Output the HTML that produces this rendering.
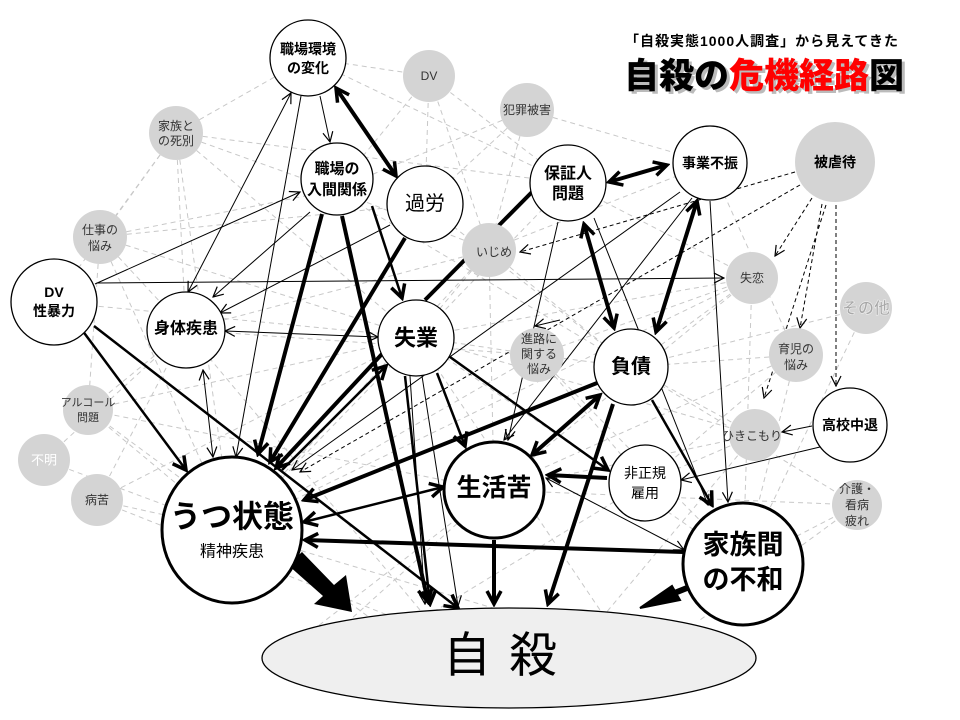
<!DOCTYPE html>
<html><head><meta charset="utf-8"><style>
html,body{margin:0;padding:0;background:#fff;}
svg{display:block;font-family:"Liberation Sans","Noto Sans CJK JP",sans-serif;}
.g{fill:#d4d4d4;stroke:none}
.w{fill:#fff;stroke:#000;stroke-width:1.3}
.d line{stroke:#c8c8c8;stroke-width:1;stroke-dasharray:5,4}
.t1 line{stroke:#000;stroke-width:1;marker-end:url(#a)}
.t3 line{stroke:#000;stroke-width:4;marker-end:url(#b)}
.t2 line{stroke:#000;stroke-width:2.5;marker-end:url(#b)}
.dk line{stroke:#000;stroke-width:1;stroke-dasharray:4,3;marker-end:url(#a)}
text{text-anchor:middle;dominant-baseline:central}
.gt{font-size:12px;fill:#333}
.b{font-weight:bold}
</style></head><body>
<svg width="960" height="720" viewBox="0 0 960 720">
<defs>
<marker id="a" viewBox="0 0 12 12" refX="11" refY="6" markerWidth="12" markerHeight="12" markerUnits="userSpaceOnUse" orient="auto-start-reverse"><path d="M1,1 L11,6 L1,11" fill="none" stroke="#000" stroke-width="1.2"/></marker>
<marker id="b" viewBox="0 0 18 18" refX="15" refY="9" markerWidth="18" markerHeight="18" markerUnits="userSpaceOnUse" orient="auto-start-reverse"><path d="M2,2 L15,9 L2,16" fill="none" stroke="#000" stroke-width="3.5"/></marker>
</defs>

<g class="d">
<line x1="429" y1="76" x2="335" y2="190"/><line x1="429" y1="76" x2="425" y2="204"/><line x1="429" y1="76" x2="568" y2="183"/><line x1="429" y1="76" x2="489" y2="250"/><line x1="429" y1="76" x2="308" y2="58"/>
<line x1="527" y1="110" x2="425" y2="204"/><line x1="527" y1="110" x2="489" y2="250"/><line x1="527" y1="110" x2="710" y2="163"/><line x1="527" y1="110" x2="335" y2="190"/>
<line x1="176" y1="133" x2="308" y2="58"/><line x1="176" y1="133" x2="100" y2="237"/><line x1="176" y1="133" x2="416" y2="337"/><line x1="176" y1="133" x2="232" y2="530"/><line x1="176" y1="133" x2="568" y2="183"/><line x1="176" y1="133" x2="54" y2="302"/><line x1="176" y1="133" x2="186" y2="330"/><line x1="176" y1="133" x2="335" y2="190"/>
<line x1="100" y1="237" x2="335" y2="190"/><line x1="100" y1="237" x2="416" y2="337"/><line x1="100" y1="237" x2="232" y2="530"/><line x1="100" y1="237" x2="186" y2="330"/><line x1="100" y1="237" x2="425" y2="204"/><line x1="100" y1="237" x2="88" y2="410"/>
<line x1="489" y1="250" x2="232" y2="530"/><line x1="489" y1="250" x2="416" y2="337"/><line x1="489" y1="250" x2="631" y2="367"/><line x1="489" y1="250" x2="186" y2="330"/><line x1="489" y1="250" x2="335" y2="190"/><line x1="489" y1="250" x2="710" y2="163"/><line x1="489" y1="250" x2="494" y2="490"/>
<line x1="752" y1="278" x2="631" y2="367"/><line x1="752" y1="278" x2="494" y2="490"/><line x1="752" y1="278" x2="743" y2="564"/><line x1="752" y1="278" x2="416" y2="337"/><line x1="752" y1="278" x2="568" y2="183"/><line x1="752" y1="278" x2="537" y2="355"/><line x1="752" y1="278" x2="232" y2="530"/>
<line x1="537" y1="355" x2="232" y2="530"/><line x1="537" y1="355" x2="631" y2="367"/><line x1="537" y1="355" x2="416" y2="337"/><line x1="537" y1="355" x2="645" y2="483"/><line x1="537" y1="355" x2="743" y2="564"/><line x1="537" y1="355" x2="186" y2="330"/>
<line x1="796" y1="355" x2="631" y2="367"/><line x1="796" y1="355" x2="743" y2="564"/><line x1="796" y1="355" x2="494" y2="490"/><line x1="796" y1="355" x2="645" y2="483"/><line x1="796" y1="355" x2="710" y2="163"/>
<line x1="88" y1="410" x2="232" y2="530"/><line x1="88" y1="410" x2="416" y2="337"/><line x1="88" y1="410" x2="186" y2="330"/><line x1="88" y1="410" x2="494" y2="490"/><line x1="88" y1="410" x2="400" y2="640"/>
<line x1="97" y1="500" x2="232" y2="530"/><line x1="97" y1="500" x2="400" y2="620"/><line x1="97" y1="500" x2="186" y2="330"/><line x1="97" y1="500" x2="416" y2="337"/>
<line x1="44" y1="460" x2="232" y2="530"/><line x1="44" y1="460" x2="186" y2="330"/>
<line x1="755" y1="435" x2="494" y2="490"/><line x1="755" y1="435" x2="631" y2="367"/><line x1="755" y1="435" x2="600" y2="620"/><line x1="755" y1="435" x2="645" y2="483"/><line x1="755" y1="435" x2="416" y2="337"/>
<line x1="857" y1="505" x2="743" y2="564"/><line x1="857" y1="505" x2="631" y2="367"/><line x1="857" y1="505" x2="494" y2="490"/><line x1="857" y1="505" x2="700" y2="620"/>
<line x1="866" y1="308" x2="743" y2="564"/><line x1="866" y1="308" x2="631" y2="367"/>
<line x1="186" y1="330" x2="420" y2="610"/><line x1="416" y1="337" x2="600" y2="610"/><line x1="335" y1="190" x2="631" y2="367"/><line x1="425" y1="204" x2="631" y2="367"/><line x1="308" y1="58" x2="568" y2="183"/><line x1="568" y1="183" x2="232" y2="530"/><line x1="416" y1="337" x2="743" y2="564"/><line x1="232" y1="530" x2="600" y2="640"/><line x1="631" y1="367" x2="350" y2="620"/><line x1="494" y1="490" x2="300" y2="640"/><line x1="645" y1="483" x2="420" y2="620"/><line x1="54" y1="302" x2="416" y2="337"/>
</g>

<g class="t1">
<line x1="320" y1="96" x2="330" y2="142"/>
<line x1="188" y1="292" x2="291" y2="93" marker-start="url(#a)"/>
<line x1="301" y1="96" x2="236" y2="457"/>
<line x1="95" y1="284" x2="300" y2="192"/>
<line x1="97" y1="283" x2="724" y2="278"/>
<line x1="310" y1="212" x2="213" y2="297"/>
<line x1="390" y1="225" x2="220" y2="313"/>
<line x1="225" y1="331" x2="378" y2="337" marker-start="url(#a)"/>
<line x1="203" y1="370" x2="213" y2="457" marker-start="url(#a)"/>
<line x1="680" y1="192" x2="292" y2="470"/>
<line x1="692" y1="198" x2="504" y2="440"/>
<line x1="558" y1="222" x2="508" y2="440"/>
<line x1="594" y1="218" x2="708" y2="505"/>
<line x1="710" y1="201" x2="728" y2="502"/>
<line x1="812" y1="426" x2="782" y2="432"/>
<line x1="820" y1="447" x2="681" y2="480"/>
<line x1="546" y1="478" x2="684" y2="550" marker-start="url(#a)"/>
<line x1="410" y1="376" x2="425" y2="604"/>
<line x1="422" y1="376" x2="458" y2="606"/>
<line x1="560" y1="320" x2="535" y2="326"/>
</g>

<g class="dk">
<line x1="795" y1="172" x2="520" y2="252"/>
<line x1="812" y1="198" x2="775" y2="256"/>
<line x1="822" y1="204" x2="800" y2="328"/>
<line x1="836" y1="205" x2="836" y2="386"/>
<line x1="826" y1="205" x2="764" y2="398"/>
<line x1="800" y1="185" x2="300" y2="472"/>
</g>

<g class="t2">
<line x1="82" y1="330" x2="186" y2="470"/>
<line x1="94" y1="326" x2="458" y2="608"/>
<line x1="437" y1="373" x2="465" y2="446"/>
<line x1="450" y1="357" x2="608" y2="470"/>
<line x1="405" y1="376" x2="430" y2="604"/>
<line x1="652" y1="400" x2="712" y2="505"/>
<line x1="372" y1="206" x2="402" y2="298"/>
<line x1="443" y1="487" x2="304" y2="522" marker-start="url(#b)"/>
<line x1="282" y1="470" x2="386" y2="366"/>
</g>

<g class="t3">
<line x1="336" y1="88" x2="396" y2="176" marker-start="url(#b)"/>
<line x1="609" y1="182" x2="667" y2="165" marker-start="url(#b)"/>
<line x1="584" y1="224" x2="614" y2="328" marker-start="url(#b)"/>
<line x1="697" y1="201" x2="656" y2="332" marker-start="url(#b)"/>
<line x1="600" y1="395" x2="532" y2="455" marker-start="url(#b)"/>
<line x1="597" y1="383" x2="304" y2="500"/>
<line x1="683" y1="552" x2="305" y2="540"/>
<line x1="607" y1="478" x2="548" y2="475"/>
<line x1="494" y1="540" x2="494" y2="604"/>
<line x1="613" y1="404" x2="548" y2="604"/>
<line x1="322" y1="214" x2="258" y2="454"/>
<line x1="405" y1="238" x2="270" y2="462"/>
<line x1="382" y1="354" x2="276" y2="468"/>
<line x1="342" y1="216" x2="428" y2="602"/>
<line x1="425" y1="300" x2="532" y2="192" style="marker-end:none"/>
</g>
<polygon points="288,565 302,552 334,585 346,575 352,612 314,604 323,596" fill="#000"/>
<line x1="692" y1="586" x2="662" y2="598" stroke="#000" stroke-width="6"/>
<polygon points="672,586 680,600 640,608" fill="#000" stroke="#000" stroke-width="2"/>

<circle class="g" cx="429" cy="76" r="26"/><circle class="g" cx="527" cy="110" r="27"/>
<circle class="g" cx="176" cy="133" r="27"/><circle class="g" cx="100" cy="237" r="27"/>
<circle class="g" cx="489" cy="250" r="27"/><circle class="g" cx="752" cy="278" r="26"/>
<circle class="g" cx="866" cy="308" r="26"/><circle class="g" cx="537" cy="355" r="27"/>
<circle class="g" cx="796" cy="355" r="27"/><circle class="g" cx="88" cy="410" r="25"/>
<circle class="g" cx="44" cy="460" r="26"/><circle class="g" cx="97" cy="500" r="26"/>
<circle class="g" cx="755" cy="435" r="26"/><circle class="g" cx="857" cy="505" r="25"/>
<circle class="g" cx="835" cy="162" r="40"/>

<circle class="w" cx="308" cy="58" r="38"/>
<circle class="w" cx="337" cy="179" r="36"/>
<circle class="w" cx="425" cy="204" r="38"/>
<circle class="w" cx="54" cy="302" r="43"/>
<ellipse class="w" cx="186" cy="330" rx="39" ry="38"/>
<circle class="w" cx="416" cy="338" r="38"/>
<circle class="w" cx="568" cy="183" r="38"/>
<circle class="w" cx="710" cy="163" r="37"/>
<ellipse class="w" cx="631" cy="367" rx="37" ry="38"/>
<circle class="w" cx="850" cy="425" r="37"/>
<ellipse class="w" cx="645" cy="483" rx="36" ry="38"/>
<ellipse class="w" cx="494" cy="490" rx="50" ry="48" style="stroke-width:3"/>
<ellipse class="w" cx="232" cy="530" rx="70" ry="73" style="stroke-width:3"/>
<ellipse class="w" cx="743" cy="564" rx="60" ry="61" style="stroke-width:3"/>
<ellipse cx="509" cy="658" rx="247" ry="50" fill="#efefef" stroke="#000" stroke-width="1.3"/>

<text class="gt" x="429" y="76">DV</text>
<text class="gt" x="527" y="110">犯罪被害</text>
<text class="gt" x="176" y="126">家族と</text><text class="gt" x="176" y="141">の死別</text>
<text class="gt" x="100" y="230">仕事の</text><text class="gt" x="100" y="246">悩み</text>
<text class="gt" x="494" y="252">いじめ</text>
<text class="gt" x="752" y="278">失恋</text>
<text x="866" y="309" style="font-size:16px;font-weight:bold;fill:#a8a8a8;stroke:#f0f0f0;stroke-width:.6">その他</text>
<text class="gt" x="539" y="339">進路に</text><text class="gt" x="539" y="354">関する</text><text class="gt" x="539" y="369">悩み</text>
<text class="gt" x="796" y="349">育児の</text><text class="gt" x="796" y="365">悩み</text>
<text class="gt" x="88" y="403" style="font-size:11px">アルコール</text><text class="gt" x="88" y="418" style="font-size:11px">問題</text>
<text x="44" y="460" style="font-size:13px;fill:#fff">不明</text>
<text class="gt" x="97" y="500">病苦</text>
<text class="gt" x="752" y="436">ひきこもり</text>
<text class="gt" x="857" y="489">介護・</text><text class="gt" x="857" y="505">看病</text><text class="gt" x="857" y="521">疲れ</text>
<text class="b" x="835" y="162" style="font-size:14px">被虐待</text>

<text class="b" x="308" y="49" style="font-size:14px">職場環境</text><text class="b" x="308" y="68" style="font-size:14px">の変化</text>
<text class="b" x="337" y="169" style="font-size:15px">職場の</text><text class="b" x="337" y="190" style="font-size:15px">入間関係</text>
<text x="425" y="204" style="font-size:20px">過労</text>
<text class="b" x="54" y="292" style="font-size:14px">DV</text><text class="b" x="54" y="311" style="font-size:14px">性暴力</text>
<text class="b" x="186" y="329" style="font-size:16px">身体疾患</text>
<text class="b" x="416" y="338" style="font-size:22px">失業</text>
<text class="b" x="568" y="174" style="font-size:16px">保証人</text><text class="b" x="568" y="194" style="font-size:16px">問題</text>
<text class="b" x="710" y="163" style="font-size:14px">事業不振</text>
<text class="b" x="631" y="367" style="font-size:20px">負債</text>
<text class="b" x="850" y="425" style="font-size:14px">高校中退</text>
<text x="645" y="473" style="font-size:14px">非正規</text><text x="645" y="493" style="font-size:14px">雇用</text>
<text class="b" x="494" y="488" style="font-size:25px">生活苦</text>
<text class="b" x="232" y="517" style="font-size:31px">うつ状態</text>
<text x="232" y="552" style="font-size:16px">精神疾患</text>
<text class="b" x="743" y="545" style="font-size:27px">家族間</text><text class="b" x="743" y="580" style="font-size:27px">の不和</text>
<text x="509" y="656" style="font-size:48px;letter-spacing:18px">自殺</text>

<text class="b" x="762" y="41" style="font-size:14px;letter-spacing:1px">「自殺実態1000人調査」から見えてきた</text>
<g style="font-size:35px;font-weight:900">
<text x="765" y="77" style="fill:#bbb" dx="2" dy="2">自殺の危機経路図</text>
<text x="764" y="76"><tspan fill="#000">自殺の</tspan><tspan fill="#f00">危機経路</tspan><tspan fill="#000">図</tspan></text>
</g>
</svg>
</body></html>
